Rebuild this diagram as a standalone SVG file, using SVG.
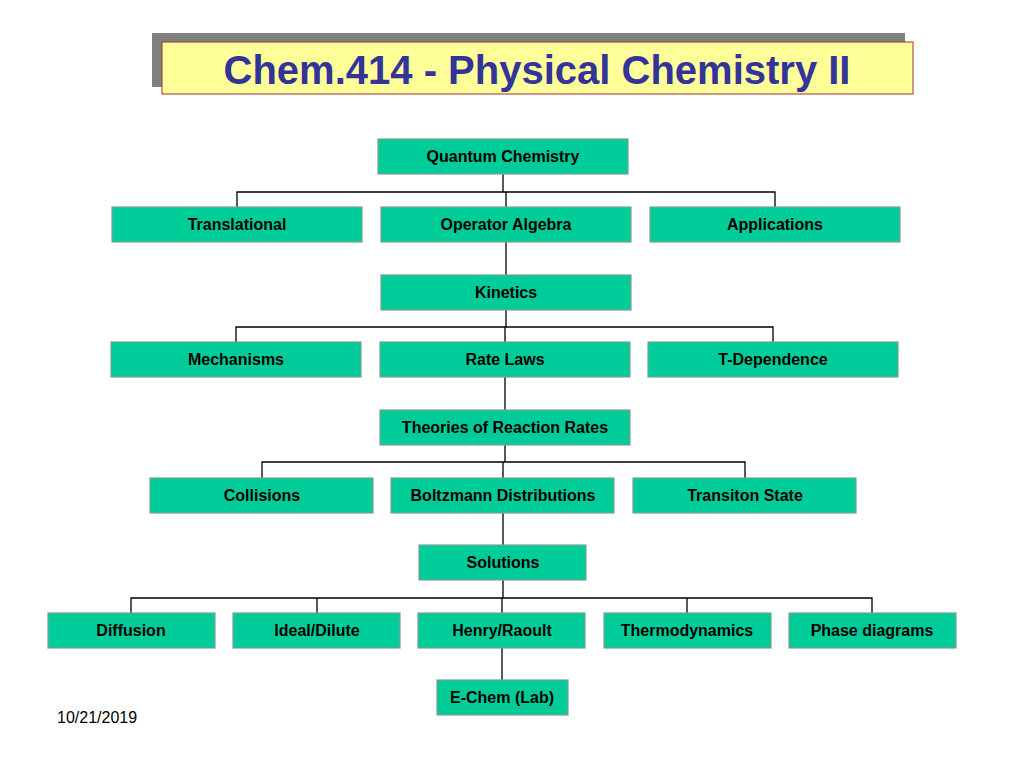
<svg xmlns="http://www.w3.org/2000/svg" width="1024" height="768" viewBox="0 0 1024 768">
<style>
.n{fill:#00CC99;stroke:#7F9F95;stroke-width:1.2}
.t{font-family:"Liberation Sans",Arial,sans-serif;font-weight:bold;font-size:16px;fill:#000;text-anchor:middle}
.c{stroke:#000;stroke-width:1.3;fill:none}
</style>
<rect width="1024" height="768" fill="#fff"/>
<g id="title">
<rect x="152" y="33" width="753" height="54" fill="#808080"/>
<rect x="162" y="42" width="751" height="52" fill="#FFFF99" stroke="#993333" stroke-width="1"/>
<text x="537" y="84" font-family="'Liberation Sans',Arial,sans-serif" font-weight="bold" font-size="40" fill="#333399" text-anchor="middle">Chem.414 - Physical Chemistry II</text>
</g>
<g id="connectors">
<path class="c" d="M503 174V192M237 208V192H775V208M506 192V275"/>
<path class="c" d="M506 310V327M236 342V327H773V342M505 327V410"/>
<path class="c" d="M505 445V462M262 478V462H745V478M503 462V545"/>
<path class="c" d="M503 580V598M131 613V598H872V613M317 598V613M687 598V613M502 598V680"/>
</g>
<g id="quantum"><rect class="n" x="378" y="139" width="250" height="35"/><text class="t" x="503" y="162">Quantum Chemistry</text></g>
<g id="translational"><rect class="n" x="112" y="207" width="250" height="35"/><text class="t" x="237" y="230">Translational</text></g>
<g id="operator"><rect class="n" x="381" y="207" width="250" height="35"/><text class="t" x="506" y="230">Operator Algebra</text></g>
<g id="applications"><rect class="n" x="650" y="207" width="250" height="35"/><text class="t" x="775" y="230">Applications</text></g>
<g id="kinetics"><rect class="n" x="381" y="275" width="250" height="35"/><text class="t" x="506" y="298">Kinetics</text></g>
<g id="mechanisms"><rect class="n" x="111" y="342" width="250" height="35"/><text class="t" x="236" y="365">Mechanisms</text></g>
<g id="ratelaws"><rect class="n" x="380" y="342" width="250" height="35"/><text class="t" x="505" y="365">Rate Laws</text></g>
<g id="tdep"><rect class="n" x="648" y="342" width="250" height="35"/><text class="t" x="773" y="365">T-Dependence</text></g>
<g id="theories"><rect class="n" x="380" y="410" width="250" height="35"/><text class="t" x="505" y="433">Theories of Reaction Rates</text></g>
<g id="collisions"><rect class="n" x="150" y="478" width="223" height="35"/><text class="t" x="262" y="501">Collisions</text></g>
<g id="boltzmann"><rect class="n" x="391" y="478" width="223" height="35"/><text class="t" x="503" y="501">Boltzmann Distributions</text></g>
<g id="transition"><rect class="n" x="633" y="478" width="223" height="35"/><text class="t" x="745" y="501">Transiton State</text></g>
<g id="solutions"><rect class="n" x="419" y="545" width="167" height="35"/><text class="t" x="503" y="568">Solutions</text></g>
<g id="diffusion"><rect class="n" x="48" y="613" width="167" height="35"/><text class="t" x="131" y="636">Diffusion</text></g>
<g id="ideal"><rect class="n" x="233" y="613" width="167" height="35"/><text class="t" x="317" y="636">Ideal/Dilute</text></g>
<g id="henry"><rect class="n" x="418" y="613" width="167" height="35"/><text class="t" x="502" y="636">Henry/Raoult</text></g>
<g id="thermo"><rect class="n" x="604" y="613" width="167" height="35"/><text class="t" x="687" y="636">Thermodynamics</text></g>
<g id="phase"><rect class="n" x="789" y="613" width="167" height="35"/><text class="t" x="872" y="636">Phase diagrams</text></g>
<g id="echem"><rect class="n" x="437" y="680" width="131" height="35"/><text class="t" x="502" y="703">E-Chem (Lab)</text></g>
<text x="57" y="723" font-family="'Liberation Sans',Arial,sans-serif" font-size="16" fill="#000">10/21/2019</text>
</svg>
